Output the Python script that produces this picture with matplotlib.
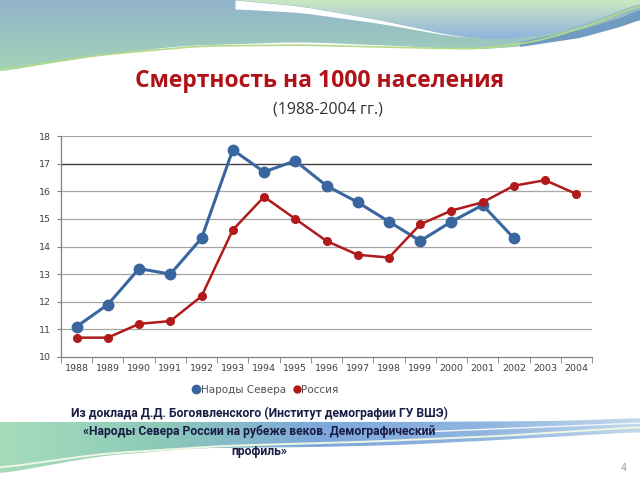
import numpy as np
import matplotlib
matplotlib.use("Agg")
import matplotlib.pyplot as plt
from matplotlib.path import Path
from matplotlib.patches import PathPatch
from matplotlib.lines import Line2D
from matplotlib.colors import LinearSegmentedColormap

years = ["1988", "1989", "1990", "1991", "1992", "1993", "1994", "1995", "1996",
         "1997", "1998", "1999", "2000", "2001", "2002", "2003", "2004"]
north = [11.1, 11.9, 13.2, 13.0, 14.3, 17.5, 16.7, 17.1, 16.2, 15.6, 14.9, 14.2,
         14.9, 15.5, 14.3, np.nan, np.nan]
russia = [10.7, 10.7, 11.2, 11.3, 12.2, 14.6, 15.8, 15.0, 14.2, 13.7, 13.6, 14.8,
          15.3, 15.6, 16.2, 16.4, 15.9]
yticks = [10, 11, 12, 13, 14, 15, 16, 17, 18]

title = "Смертность на 1000 населения"
subtitle = "(1988-2004 гг.)"
series_names = ["Народы Севера", "Россия"]
footer = ["Из доклада Д.Д. Богоявленского (Институт демографии ГУ ВШЭ)",
          "«Народы Севера России на рубеже веков. Демографический",
          "профиль»"]

BLUE = "#3a66a0"
RED = "#b01a1a"

fig = plt.figure(figsize=(6.4, 4.8), dpi=100)

# ---------- background decoration ----------
bg = fig.add_axes([0, 0, 1, 1], zorder=-5)
bg.set_xlim(0, 640)
bg.set_ylim(480, 0)
bg.axis("off")


def curve(pts, n=200):
    pts = np.array(pts, float)
    rev = pts[0, 0] > pts[-1, 0]
    if rev:
        pts = pts[::-1]
    xs = np.linspace(pts[0, 0], pts[-1, 0], n)
    ys = np.interp(xs, pts[:, 0], pts[:, 1])
    k = 15
    ker = np.ones(k) / k
    ys = np.convolve(np.pad(ys, k // 2, mode="edge"), ker, mode="valid")
    out = np.column_stack([xs, ys])
    return out[::-1] if rev else out


def grad_fill(ax, poly, colors, direction="h", extent=(0, 640, 480, 0), z=1):
    cmap = LinearSegmentedColormap.from_list("g", colors)
    t = np.linspace(0, 1, 256)
    img = cmap(t)[:, :3]
    img = img[None, :, :] if direction == "h" else img[:, None, :]
    im = ax.imshow(img, extent=extent, aspect="auto", interpolation="bilinear", zorder=z)
    patch = PathPatch(Path(poly), transform=ax.transData, facecolor="none", edgecolor="none")
    ax.add_patch(patch)
    im.set_clip_path(patch)


# top band (blue/green, teal)
low = curve([(0, 72), (80, 58), (180, 46), (300, 42), (400, 46), (470, 50), (530, 46), (600, 28), (640, 14)])
poly_top = np.vstack([[(0, 0)], low, [(640, 0)]])
grad_fill(bg, poly_top, ["#92b4cc", "#a4d6b4"], direction="v", extent=(0, 640, 75, 0), z=1)

# right light area (green -> blue, vertical)
ra = curve([(235, 0), (300, 6), (380, 20), (450, 35), (500, 40), (560, 32), (610, 15), (640, 3)])
poly_ra = np.vstack([[(235, 0)], ra, [(640, 0)]])
grad_fill(bg, poly_ra, ["#cce8c2", "#8aaee2"], direction="v", extent=(235, 640, 42, 0), z=3)

# thin white swoosh below right area
sw_x = ra[:, 0]
thick = np.clip((470 - sw_x) / 240.0, 0, 1) * 9
mask = sw_x <= 480
bg.fill_between(sw_x[mask], ra[mask, 1], ra[mask, 1] + thick[mask], color="white", zorder=4, lw=0)

# blue stripe on the right
st_up = curve([(520, 42), (580, 30), (620, 18), (640, 10)])
st_lo = curve([(640, 20), (620, 27), (580, 38), (520, 47)])
bg.fill(np.r_[st_up[:, 0], st_lo[:, 0]], np.r_[st_up[:, 1], st_lo[:, 1]], color="#6f9cc0", zorder=4, lw=0)

# green thin lines
gl = curve([(0, 70), (100, 55), (200, 46), (300, 45), (420, 48), (480, 49), (540, 41), (600, 22), (640, 4)])
bg.plot(gl[:, 0], gl[:, 1], color="#b5d98a", lw=1.2, zorder=5)

# bottom band
b_up = curve([(0, 422), (200, 422), (400, 422), (560, 421), (640, 418)])
b_lo = curve([(640, 432), (500, 440), (400, 445), (320, 447), (200, 448), (100, 456), (0, 474)])
poly_b = np.vstack([b_up, b_lo])
grad_fill(bg, poly_b, ["#a6dcbc", "#8ccab8", "#7ea8dc", "#8fb4e0", "#c4d8ec"], direction="h",
          extent=(0, 640, 480, 414), z=1)
bl = curve([(0, 468), (100, 454), (220, 446), (360, 442), (500, 436), (640, 427)])
bg.plot(bl[:, 0], bl[:, 1], color="#eef6e4", lw=1.4, zorder=3)
bl2 = curve([(420, 432), (520, 428), (640, 423)])
bg.plot(bl2[:, 0], bl2[:, 1], color="#f2f6fa", lw=1.0, zorder=3)

# ---------- titles ----------
fig.text(320 / 640, 1 - 81 / 480, title, ha="center", va="center", fontsize=16.5,
         fontweight="bold", color="#b01218", family=["Open Sans", "DejaVu Sans"])
fig.text(328 / 640, 1 - 110 / 480, subtitle, ha="center", va="center", fontsize=11.5,
         color="#333333", family=["Open Sans", "DejaVu Sans"])

# ---------- chart ----------
ax = fig.add_axes([61 / 640, 1 - 357 / 480, 531 / 640, 221 / 480])
x = np.arange(len(years))
ax.plot(x, north, color=BLUE, lw=2.2, marker="o", ms=7.5, zorder=4)
ax.plot(x, russia, color=RED, lw=1.8, marker="o", ms=5.5, zorder=5)

ax.set_xlim(-0.5, len(years) - 0.5)
ax.set_ylim(10, 18)
ax.set_yticks(yticks)
ax.set_yticklabels([str(v) for v in yticks])
for v in yticks[1:]:
    ax.axhline(v, color="#404040" if v == 17 else "#a6a6a6", lw=1.0 if v == 17 else 0.9, zorder=1)
ax.set_xticks(x)
ax.set_xticklabels(years)
ax.set_xticks(np.arange(-0.5, len(years)), minor=True)
ax.tick_params(axis="x", which="major", length=0, labelsize=6.8, colors="#404040", pad=5)
ax.tick_params(axis="x", which="minor", length=4, color="#808080", direction="out")
ax.tick_params(axis="y", length=3, labelsize=6.8, colors="#404040", color="#808080", pad=4)
for s in ["top", "right"]:
    ax.spines[s].set_visible(False)
for s in ["left", "bottom"]:
    ax.spines[s].set_color("#808080")
    ax.spines[s].set_linewidth(0.9)
ax.patch.set_alpha(0)

handles = [Line2D([], [], ls="none", marker="o", color=BLUE, ms=6),
           Line2D([], [], ls="none", marker="o", color=RED, ms=5)]
fig.legend(handles, series_names, loc="center", bbox_to_anchor=(266 / 640, 1 - 390 / 480),
           ncol=2, frameon=False, fontsize=7.5, handlelength=0.6, handletextpad=0.1,
           columnspacing=0.8, labelcolor="#505050")

# ---------- footer ----------
for line, yy in zip(footer, [413, 432, 451]):
    fig.text(259 / 640, 1 - yy / 480, line, ha="center", va="center",
             fontsize=8.7, fontweight="bold", color="#1a1c44",
             family=["Roboto", "DejaVu Sans"])
fig.text(624 / 640, 1 - 468 / 480, "4", ha="center", va="center", fontsize=7,
         color="#8aa0b0")

fig.savefig("out.png", dpi=100)
